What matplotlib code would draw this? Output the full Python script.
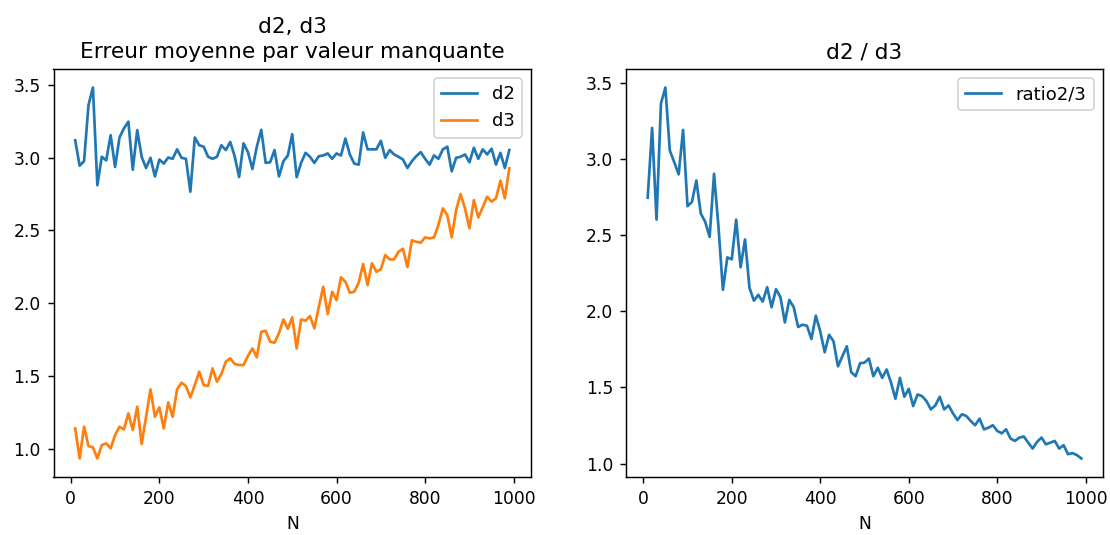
import numpy as np
import matplotlib
matplotlib.use("Agg")
import matplotlib.pyplot as plt

N = list(range(10, 1000, 10))

d2 = [3.118, 2.944, 2.975, 3.36, 3.48, 2.81, 3.005, 2.98, 3.153, 2.935,
      3.137, 3.2, 3.246, 2.916, 3.188, 3.005, 2.928, 2.998, 2.87, 2.986,
      2.958, 3.0, 2.991, 3.056, 2.998, 2.991, 2.765, 3.137, 3.084, 3.074,
      3.005, 2.991, 3.005, 3.084, 3.051, 3.107, 3.009, 2.866, 3.097, 3.037,
      2.921, 3.074, 3.19, 2.963, 2.967, 3.051, 2.87, 2.974, 3.014, 3.16,
      2.865, 2.963, 3.032, 3.005, 2.963, 3.009, 3.014, 3.028, 2.991, 3.028,
      3.014, 3.13, 3.021, 2.958, 2.951, 3.172, 3.056, 3.056, 3.056, 3.114,
      2.998, 3.051, 3.021, 3.005, 2.986, 2.928, 2.974, 3.009, 3.037, 2.991,
      2.951, 3.014, 2.991, 3.056, 3.074, 2.905, 2.998, 3.005, 3.021, 2.967,
      3.067, 2.991, 3.056, 3.021, 3.06, 2.951, 3.032, 2.928, 3.051]

d3 = [1.141, 0.935, 1.153, 1.02, 1.011, 0.935, 1.027, 1.038, 1.004, 1.095,
      1.153, 1.134, 1.244, 1.13, 1.29, 1.034, 1.221, 1.409, 1.221, 1.285,
      1.141, 1.32, 1.221, 1.409, 1.455, 1.432, 1.354, 1.439, 1.53, 1.439,
      1.432, 1.553, 1.461, 1.514, 1.599, 1.622, 1.583, 1.576, 1.576, 1.638,
      1.69, 1.629, 1.804, 1.811, 1.736, 1.729, 1.795, 1.889, 1.825, 1.903,
      1.69, 1.889, 1.88, 1.912, 1.828, 1.976, 2.113, 1.926, 2.079, 2.022,
      2.178, 2.148, 2.072, 2.079, 2.141, 2.269, 2.125, 2.274, 2.216, 2.233,
      2.331, 2.301, 2.301, 2.354, 2.374, 2.248, 2.432, 2.422, 2.415, 2.452,
      2.445, 2.452, 2.537, 2.651, 2.605, 2.452, 2.64, 2.749, 2.651, 2.514,
      2.708, 2.589, 2.658, 2.731, 2.697, 2.72, 2.841, 2.72, 2.926]

ratio = [2.746, 3.204, 2.602, 3.365, 3.469, 3.056, 2.979, 2.899, 3.191, 2.69,
         2.718, 2.859, 2.642, 2.587, 2.489, 2.903, 2.554, 2.141, 2.354, 2.341,
         2.602, 2.289, 2.472, 2.155, 2.07, 2.108, 2.064, 2.158, 2.027, 2.145,
         2.093, 1.927, 2.075, 2.027, 1.897, 1.912, 1.905, 1.818, 1.971, 1.868,
         1.731, 1.846, 1.803, 1.639, 1.705, 1.77, 1.6, 1.574, 1.659, 1.663,
         1.69, 1.574, 1.629, 1.563, 1.618, 1.531, 1.426, 1.563, 1.439, 1.491,
         1.378, 1.454, 1.443, 1.411, 1.356, 1.382, 1.439, 1.356, 1.382, 1.33,
         1.286, 1.324, 1.313, 1.28, 1.252, 1.295, 1.225, 1.236, 1.252, 1.215,
         1.199, 1.225, 1.165, 1.149, 1.171, 1.178, 1.138, 1.099, 1.143, 1.171,
         1.127, 1.138, 1.149, 1.099, 1.121, 1.062, 1.069, 1.056, 1.034]

DPI = 130
W, H = 1110, 535
fig = plt.figure(figsize=(W / DPI, H / DPI), dpi=DPI)
fig.patch.set_facecolor("white")

def frac(x0, x1, ytop, ybot):
    return [x0 / W, (H - ybot) / H, (x1 - x0) / W, (ybot - ytop) / H]

ax1 = fig.add_axes(frac(53.5, 531, 69, 477))
ax2 = fig.add_axes(frac(626, 1103, 69, 477))

TITLE = 12
SMALL = 9.5

ax1.plot(N, d2, label="d2")
ax1.plot(N, d3, label="d3")
ax1.set_title("d2, d3\nErreur moyenne par valeur manquante", fontsize=TITLE,
              linespacing=1.3)
ax1.set_xlabel("N", fontsize=SMALL)
ax1.legend(loc="upper right", fontsize=10)

ax2.plot(N, ratio, label="ratio2/3")
ax2.set_title("d2 / d3", fontsize=TITLE)
ax2.set_xlabel("N", fontsize=SMALL)
ax2.legend(loc="upper right", fontsize=10)

for ax in (ax1, ax2):
    ax.set_xticks([0, 200, 400, 600, 800, 1000])
    ax.set_yticks([1.0, 1.5, 2.0, 2.5, 3.0, 3.5])
    ax.tick_params(labelsize=SMALL)

fig.savefig("out.png", dpi=DPI)
